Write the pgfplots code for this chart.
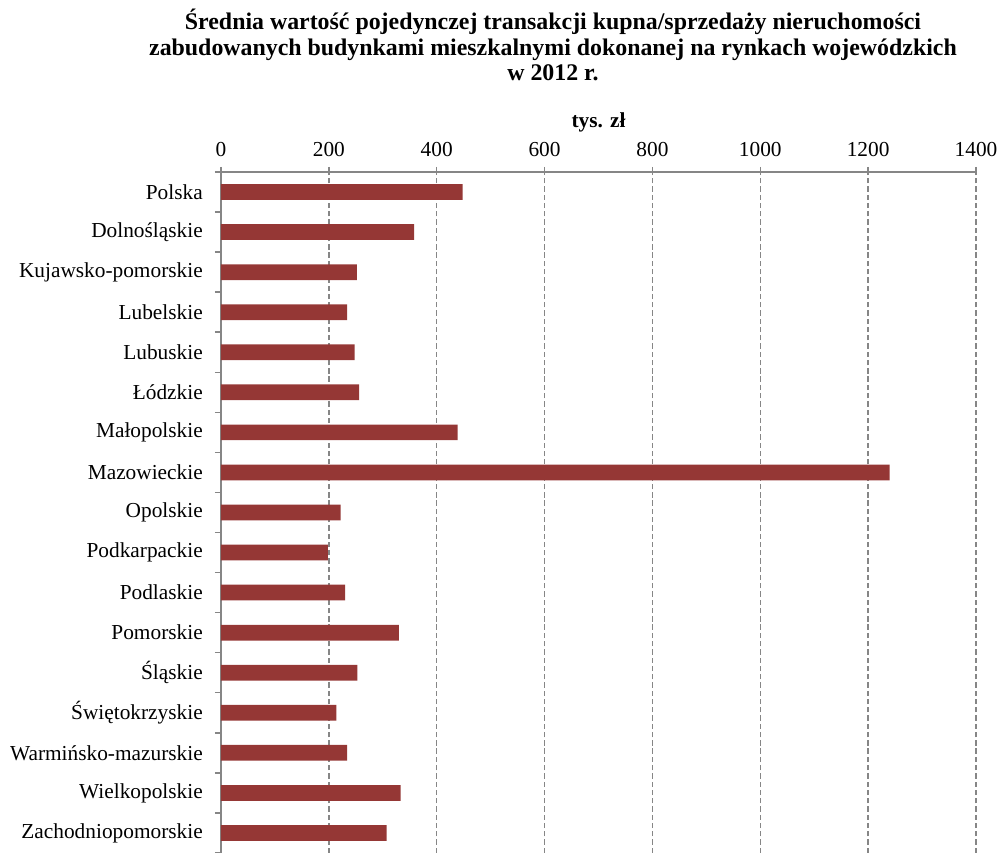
\documentclass[border=0pt]{standalone}
\usepackage{pgfplots}
\pgfplotsset{compat=1.18}
\usepackage{fontspec}
\setmainfont{Liberation Serif}
\definecolor{barred}{RGB}{149,55,53}
\definecolor{axgray}{RGB}{134,134,134}
\begin{document}
\begin{tikzpicture}
\begin{axis}[
  scale only axis, width=566.25pt, height=510.75pt,
  xbar, bar width=11.8pt,
  xmin=0, xmax=1400, xtick={0,200,...,1400},
  ymin=-0.5, ymax=16.5,
  ytick={0,...,16},
  yticklabels={Zachodniopomorskie,Wielkopolskie,Warmińsko-mazurskie,Świętokrzyskie,Śląskie,Pomorskie,Podlaskie,Podkarpackie,Opolskie,Mazowieckie,Małopolskie,Łódzkie,Lubuskie,Lubelskie,Kujawsko-pomorskie,Dolnośląskie,Polska},
  minor ytick={-0.5,0.5,...,16.5},
  axis x line*=top, axis y line*=left,
  axis line style={axgray, line width=1.1pt},
  tick align=outside,
  major tick length=3.75pt, minor tick length=4.5pt,
  major y tick style={draw=none},
  minor y tick style={axgray, line width=1.1pt},
  major x tick style={axgray, line width=1.1pt},
  xmajorgrids,
  x grid style={axgray, line width=1.1pt, dash pattern=on 4pt off 2.2pt},
  /pgf/number format/assume math mode=true,
  /pgf/number format/1000 sep={},
  every tick label/.append style={font=\fontsize{16}{19}\selectfont, inner sep=0pt},
  xticklabel shift=7.5pt,
  yticklabel shift=9.75pt,
]
\addplot[fill=barred, draw=none] coordinates {
(307,0) (333,1) (234,2) (214,3) (253,4) (330,5) (230,6) (198,7) (222,8) (1240,9) (439,10) (256,11) (248,12) (234,13) (252,14) (358,15) (448,16)
};
\end{axis}
\node[font=\bfseries\fontsize{16}{19}\selectfont] at ([yshift=37.5pt]current axis.north) {tys. zł};
\node[align=center, font=\bfseries\fontsize{17.9}{19.1}\selectfont] at ([xshift=249pt,yshift=95pt]current axis.north west) {Średnia wartość pojedynczej transakcji kupna/sprzedaży nieruchomości\\zabudowanych budynkami mieszkalnymi dokonanej na rynkach wojewódzkich\\w 2012 r.};
\pgfresetboundingbox
\path ([xshift=-165.75pt]current axis.south west) rectangle ([xshift=18pt,yshift=129pt]current axis.north east);
\end{tikzpicture}
\end{document}
